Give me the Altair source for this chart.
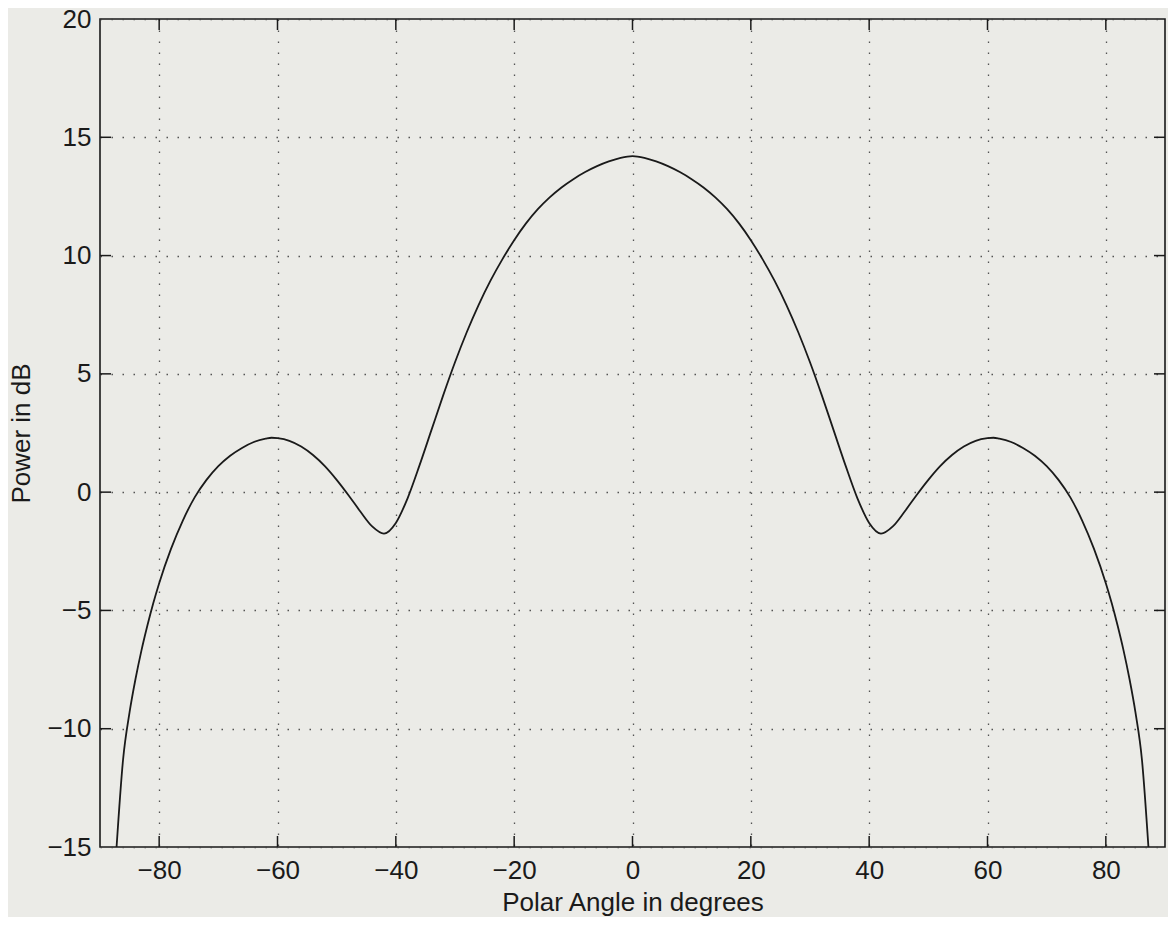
import altair as alt
import pandas as pd

# Polar angle (degrees) and power (dB)
angle = [-87.2, -86.1, -85, -84, -83, -82, -81, -80, -78, -76, -74, -72, -70, -68, -66,
         -64, -62, -61, -60, -58, -56, -54, -52, -50, -48, -46, -44, -42, -40, -38,
         -36, -34, -32, -30, -28, -26, -24, -22, -20, -18, -16, -14, -12, -10, -8,
         -6, -4, -2, 0,
         2, 4, 6, 8, 10, 12, 14, 16, 18, 20, 22, 24, 26, 28, 30,
         32, 34, 36, 38, 40, 42, 44, 46, 48, 50, 52, 54, 56, 58, 60,
         61, 62, 64, 66, 68, 70, 72, 74, 76, 78, 80, 81, 82, 83, 84,
         85, 86.1, 87.2]
power = [-15.0, -11.3, -9.3, -7.9, -6.7, -5.65, -4.7, -3.85, -2.4, -1.2, -0.22, 0.52, 1.1, 1.54, 1.87,
         2.12, 2.26, 2.3, 2.28, 2.17, 1.93, 1.57, 1.1, 0.52, -0.13, -0.82, -1.45, -1.75, -1.3, -0.25,
         1.13, 2.61, 4.09, 5.49, 6.77, 7.92, 8.94, 9.84, 10.65, 11.36, 11.96, 12.46, 12.88, 13.23, 13.53,
         13.78, 13.98, 14.13, 14.2,
         14.13, 13.98, 13.78, 13.53, 13.23, 12.88, 12.46, 11.96, 11.36, 10.65, 9.84, 8.94, 7.92, 6.77, 5.49,
         4.09, 2.61, 1.13, -0.25, -1.3, -1.75, -1.45, -0.82, -0.13, 0.52, 1.1, 1.57, 1.93, 2.17, 2.28,
         2.3, 2.26, 2.12, 1.87, 1.54, 1.1, 0.52, -0.22, -1.2, -2.4, -3.85, -4.7, -5.65, -6.7, -7.9,
         -9.3, -11.3, -15.0]

x_ticks = [-80, -60, -40, -20, 0, 20, 40, 60, 80]
y_ticks = [-15, -10, -5, 0, 5, 10, 15, 20]
y_inner_ticks = [-10, -5, 0, 5, 10, 15]

W, H = 1065, 828
FONT = "Liberation Sans"
BG = "#ebebe7"

df = pd.DataFrame({"angle": angle, "power": power})
dfx = pd.DataFrame({"t": x_ticks})
dfy = pd.DataFrame({"t": y_inner_ticks})

xscale = alt.Scale(domain=[-90, 90], nice=False, zero=False)
yscale = alt.Scale(domain=[-15, 20], nice=False, zero=False)

line = alt.Chart(df).mark_line(color="#1a1a1a", strokeWidth=1.8, clip=True,
                               interpolate="monotone").encode(
    x=alt.X("angle:Q", scale=xscale,
            axis=alt.Axis(values=x_ticks, title="Polar Angle in degrees",
                          titleY=63, titleBaseline="alphabetic")),
    y=alt.Y("power:Q", scale=yscale,
            axis=alt.Axis(values=y_ticks, title="Power in dB",
                          titleX=-79, titleY=H / 2, titleAngle=270,
                          titleAlign="center", titleBaseline="middle")),
)

tick_len = 11
bottom_ticks = alt.Chart(dfx).mark_rule(color="#1a1a1a", strokeWidth=1.5).encode(
    x=alt.X("t:Q", scale=xscale), y=alt.value(H), y2=alt.value(H - tick_len))
top_ticks = alt.Chart(dfx).mark_rule(color="#1a1a1a", strokeWidth=1.5).encode(
    x=alt.X("t:Q", scale=xscale), y=alt.value(0), y2=alt.value(tick_len))
left_ticks = alt.Chart(dfy).mark_rule(color="#1a1a1a", strokeWidth=1.5).encode(
    y=alt.Y("t:Q", scale=yscale), x=alt.value(0), x2=alt.value(tick_len))
right_ticks = alt.Chart(dfy).mark_rule(color="#1a1a1a", strokeWidth=1.5).encode(
    y=alt.Y("t:Q", scale=yscale), x=alt.value(W), x2=alt.value(W - tick_len))

chart = alt.layer(line, bottom_ticks, top_ticks, left_ticks, right_ticks).properties(
    width=W, height=H,
    background=BG,
    padding={"left": 92, "top": 11, "right": 3, "bottom": 70},
    autosize=alt.AutoSizeParams(type="none"),
).configure_view(
    stroke="#1a1a1a", strokeWidth=1.6, fill=BG,
).configure_axis(
    grid=True, gridColor="#444444", gridWidth=1.3, gridDash=[1.5, 9.5], gridOpacity=0.9,
    domain=False, ticks=False,
    labelFont=FONT, labelFontSize=26, labelColor="#1a1a1a",
    labelFlush=False, labelOverlap=False, labelBound=False,
    titleFont=FONT, titleFontSize=26, titleFontWeight="normal", titleColor="#1a1a1a",
).configure_axisX(
    labelPadding=10,
).configure_axisY(
    labelPadding=9,
)

chart.save("out.html", embed_options={"renderer": "svg", "actions": False})
